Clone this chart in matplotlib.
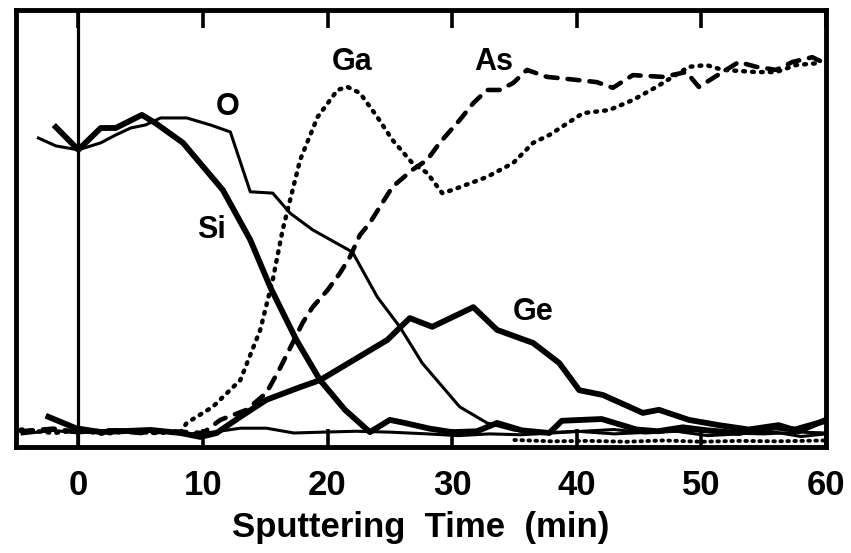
import matplotlib.pyplot as plt

plt.rcParams['font.family'] = ['Liberation Sans', 'DejaVu Sans']

# sputtering time (min) / relative signal
o_t = [-3.2, -1.8, 0, 1.8, 3, 4.2, 5.4, 6.6, 8.7, 10.6, 12.2, 13.8, 15.6, 17, 18.8, 22,
       24, 25.8, 27.6, 30.6, 32.8, 34.9, 37, 40, 43, 46, 49, 52, 55, 58, 60]
o_y = [70.7, 68.9, 68, 69.6, 71.4, 73, 73.7, 75.3, 75.3, 73.7, 72.1, 58.4, 58.1, 53.5, 49.7, 44.6,
       34.3, 27.5, 19.2, 9.2, 5.5, 3.9, 3.2, 3.6, 3.0, 3.4, 3.8, 3.2, 3.0, 3.4, 3.2]

si_t = [-1.8, 0, 1.8, 3, 5.1, 6.2, 8.4, 11.6, 13.8, 15.4, 17.5, 19.4, 21.4, 23.4, 25, 26.2,
        28.2, 30, 32, 33.6, 35.6, 37.8, 38.8, 42, 44.8, 46.5, 48.5, 50.5, 53, 55.5, 57.5, 60]
si_y = [73.2, 68, 73, 73, 76, 74.1, 69.6, 58.8, 47.4, 36.6, 24.5, 15.3, 8.5, 3.4, 6.2, 5.5,
        4.2, 3.4, 3.6, 5.5, 3.8, 3.2, 6.0, 6.4, 4.0, 3.6, 4.5, 3.8, 3.2, 4.6, 4.0, 6.0]

ga_t = [-4.6, -2, 0, 2, 4, 6, 8.2, 8.7, 10.8, 13, 14.6, 15.6, 16.4, 17.8, 19.2, 20.8, 21.6,
        22.6, 24, 25.2, 26.8, 28, 29.2, 30, 32.8, 34.9, 36.5, 37.8, 40.5, 42.6, 44.5, 46.4,
        49, 50.4, 51.7, 54.4, 56, 57.6, 59.6]
ga_y = [4.0, 3.2, 3.8, 3.0, 3.6, 3.2, 3.4, 5.5, 9.2, 15.3, 26.8, 38.2, 49.7, 65.7, 75.5, 81.7,
        82.4, 81, 75.5, 70.3, 65, 62.7, 58.1, 58.8, 61.8, 65, 69.6, 71.4, 76.4, 77.1, 79.4,
        82.4, 87, 87.4, 86.3, 85.8, 85.8, 87.4, 87.9]

as_t = [-4.6, -2, 0, 2.5, 5, 7.5, 10, 11.4, 13.5, 15.1, 16.2, 17.2, 18, 18.8, 20, 21, 21.8,
        22.6, 23.4, 25.2, 26.8, 28, 29, 30.6, 31.7, 32.8, 33.8, 34.9, 36, 37.6, 40, 41.6, 42.9,
        44.5, 46.9, 48.8, 49.8, 51.7, 53, 54.4, 56, 57.3, 58.9, 59.7]
as_y = [3.6, 4.2, 3.4, 3.8, 3.2, 3.6, 3.2, 6.2, 8.5, 12.4, 18.1, 23.8, 28.4, 32, 35.9, 39.8,
        43.5, 48.5, 51.3, 59.5, 63.4, 65.7, 69.6, 74.8, 78.7, 81.7, 81.7, 83.3, 86.3, 84.7, 84,
        83.5, 82.2, 85.1, 84.7, 85.8, 82.4, 85.8, 88.1, 87, 86.3, 88.1, 89.2, 88.1]

ge_t = [-2.4, -0.2, 1.8, 5.8, 8.2, 9.8, 11.1, 13, 15.1, 17.8, 19.4, 24.8, 26.6, 28.4, 31.7,
        33.6, 36.5, 38.6, 40.2, 42.1, 45.3, 46.6, 49, 51.4, 53.8, 56.2, 57.8, 60]
ge_y = [6.9, 4.3, 3.4, 3.9, 3.2, 2.3, 3.2, 6.9, 10.8, 13.7, 15.3, 24.5, 29.5, 27.5, 32,
        26.8, 23.8, 19.2, 13, 11.9, 7.8, 8.5, 6.2, 5.0, 4.0, 5.0, 3.6, 6.2]

base_t = [-4.5, -2, 0, 3, 6, 9, 10.8, 13, 15.1, 17.3, 19.6, 22.3, 25, 28, 30.5, 33, 35.5,
          38, 40.5, 43, 45.5, 48, 50.5, 53, 55.5, 58, 60]
base_y = [3.0, 3.8, 3.2, 4.0, 3.6, 3.0, 3.4, 4.3, 4.3, 3.2, 3.4, 3.6, 3.4, 3.0, 2.6, 3.0,
          2.8, 3.2, 3.6, 4.0, 3.2, 3.6, 2.6, 3.0, 3.6, 2.4, 3.0]

low_t = [35, 38, 41, 44, 47, 50, 53, 56, 60]
low_y = [1.6, 1.3, 1.4, 1.2, 1.5, 1.2, 1.4, 1.3, 1.5]

xticks = [0, 10, 20, 30, 40, 50, 60]

fig = plt.figure(figsize=(8.51, 5.53), dpi=100)
ax = fig.add_axes([0.0188, 0.1917, 0.9518, 0.7902])

ax.axvline(0, color='black', linewidth=2.3)

ax.plot(o_t, o_y, color='black', linewidth=2.2)
ax.plot(base_t, base_y, color='black', linewidth=2.2)
ax.plot(si_t, si_y, color='black', linewidth=4.2, solid_joinstyle='round')
ax.plot(ge_t, ge_y, color='black', linewidth=4.2, solid_joinstyle='round')
ax.plot(ga_t, ga_y, color='black', linewidth=3.2, linestyle=(0, (0.4, 1.6)),
        dash_capstyle='round')
ax.plot(low_t, low_y, color='black', linewidth=2.8, linestyle=(0, (0.4, 1.4)),
        dash_capstyle='round')
ax.plot(as_t, as_y, color='black', linewidth=3.3, linestyle=(0, (2.6, 2.2)),
        dash_capstyle='round')

lab = dict(fontsize=22, fontweight='bold', ha='center', va='center')
ax.text(12, 77.8, 'O', **lab)
ax.text(10.7, 49.7, 'Si', **lab)
ax.text(22, 88.1, 'Ga', **lab)
ax.text(33.3, 88.1, 'As', **lab)
ax.text(36.5, 30.9, 'Ge', **lab)

ax.set_xlim(-5, 60)
ax.set_ylim(0, 100)
ax.set_xticks(xticks)
ax.set_yticks([])
ax.tick_params(axis='x', direction='in', length=13, width=2.6, top=True,
               labelsize=25, pad=16)
for lbl in ax.get_xticklabels():
    lbl.set_fontweight('bold')
for sp in ax.spines.values():
    sp.set_linewidth(3.5)

ax.set_xlabel('Sputtering  Time  (min)', fontsize=25, fontweight='bold', labelpad=6)

fig.savefig('out.png', dpi=100)
